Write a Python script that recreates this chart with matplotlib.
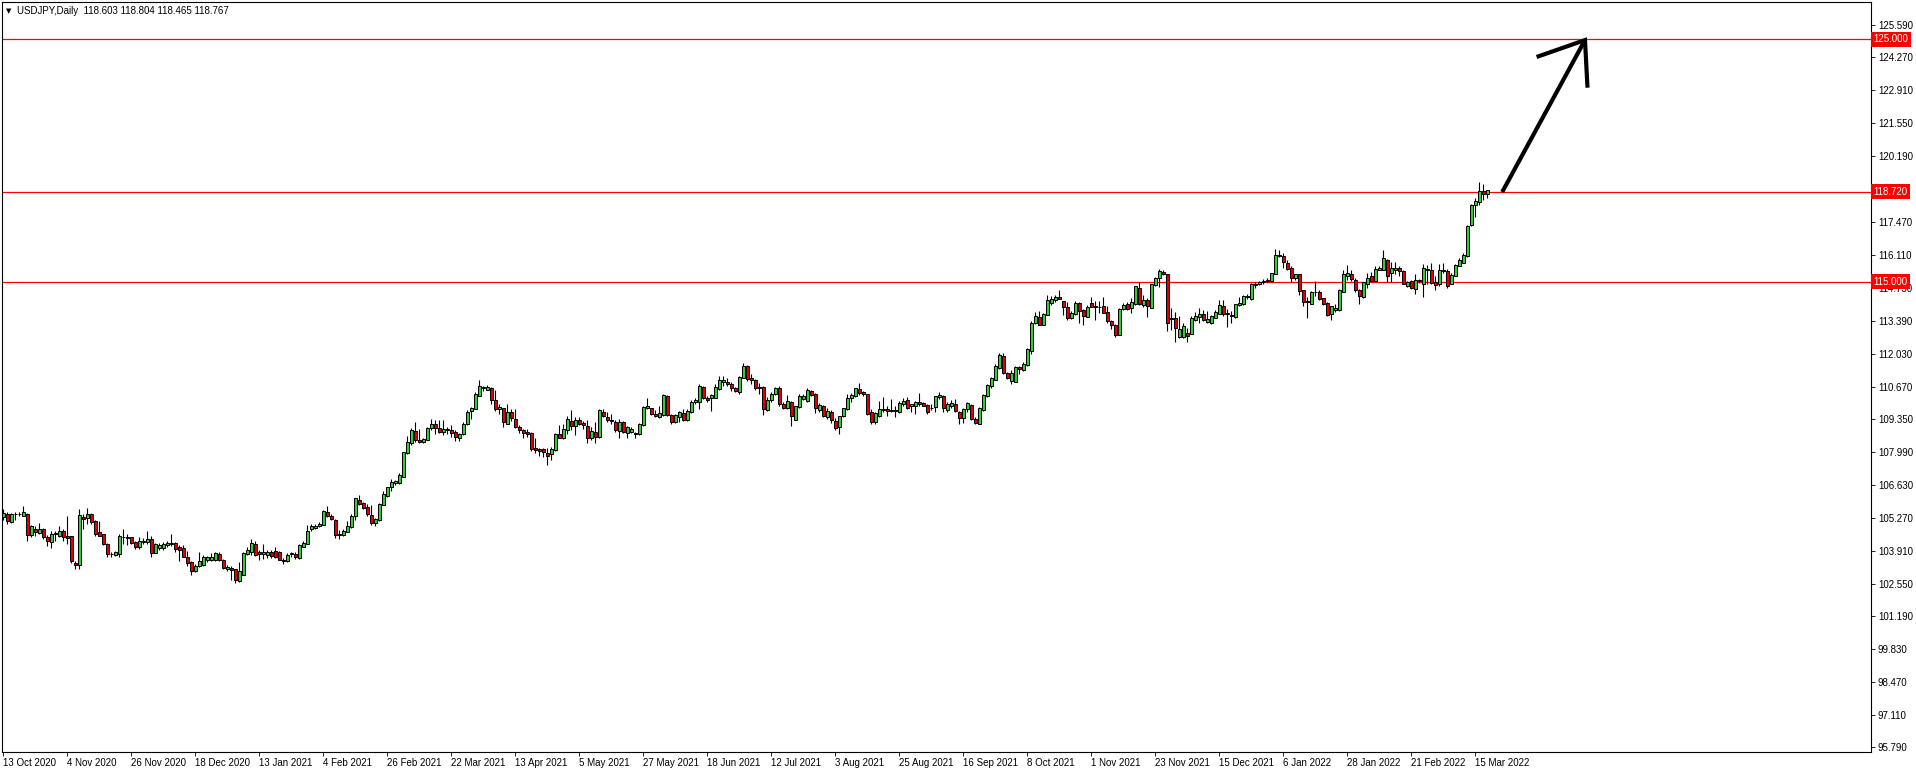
import matplotlib
matplotlib.use('Agg')
import matplotlib.pyplot as plt
import numpy as np

plt.rcParams['font.family'] = ['Liberation Sans', 'DejaVu Sans']

# USDJPY daily bars, 13 Oct 2020 .. 18 Mar 2022
opens = [
    105.30, 105.43, 105.08, 105.41, 105.40, 105.35, 105.43, 104.56, 104.80, 104.64, 104.80, 104.45,
    104.26, 104.61, 104.53, 104.72, 104.53, 104.50, 103.41, 103.32, 105.30, 105.24, 105.43, 105.13,
    104.69, 104.58, 104.20, 103.78, 103.74, 103.76, 104.47, 104.45, 104.45, 104.28, 104.06, 104.26,
    104.28, 104.39, 103.82, 104.01, 104.01, 104.15, 104.20, 104.23, 104.04, 104.01, 103.65, 103.43,
    103.08, 103.27, 103.30, 103.52, 103.52, 103.54, 103.76, 103.54, 103.13, 103.21, 103.13, 102.67,
    102.91, 103.76, 103.84, 104.20, 103.87, 103.76, 103.71, 103.85, 103.90, 103.87, 103.54, 103.46,
    103.76, 103.76, 103.60, 104.06, 104.20, 104.78, 104.83, 104.91, 104.97, 105.52, 105.32, 105.19,
    104.56, 104.56, 104.69, 104.89, 105.35, 106.01, 105.87, 105.71, 105.38, 105.05, 105.18, 105.81,
    106.16, 106.55, 106.70, 106.68, 106.96, 107.92, 108.33, 108.85, 108.49, 108.38, 108.49, 108.98,
    109.12, 108.98, 108.82, 108.93, 108.88, 108.82, 108.57, 108.71, 109.12, 109.67, 109.75, 110.30,
    110.60, 110.55, 110.60, 110.14, 109.73, 109.78, 109.15, 109.64, 109.34, 109.01, 108.90, 108.82,
    108.77, 108.14, 108.08, 108.08, 107.94, 107.89, 108.05, 108.71, 108.57, 108.90, 109.26, 109.04,
    109.31, 109.18, 109.04, 108.55, 108.82, 108.60, 109.62, 109.42, 109.31, 109.21, 108.85, 109.23,
    108.77, 108.79, 108.77, 108.71, 109.07, 109.81, 109.78, 109.56, 109.42, 109.51, 110.30, 109.51,
    109.21, 109.42, 109.59, 109.29, 109.64, 110.03, 110.03, 110.66, 110.22, 110.19, 110.22, 110.57,
    110.88, 110.85, 110.79, 110.60, 110.44, 111.04, 111.51, 111.01, 110.93, 110.66, 110.66, 109.70,
    110.11, 110.36, 110.63, 109.97, 109.81, 110.05, 109.31, 109.84, 110.16, 110.08, 110.49, 110.38,
    109.70, 109.89, 109.42, 109.64, 109.26, 109.01, 109.45, 109.73, 110.22, 110.27, 110.57, 110.46,
    110.36, 109.64, 109.23, 109.48, 109.70, 109.75, 109.67, 109.70, 109.62, 109.95, 110.11, 109.86,
    109.89, 110.03, 110.00, 109.92, 109.81, 109.84, 110.25, 110.27, 109.70, 109.86, 109.97, 109.62,
    109.37, 109.75, 109.92, 109.34, 109.15, 109.70, 110.27, 110.68, 110.96, 111.45, 111.92, 111.23,
    110.90, 110.88, 111.48, 111.37, 111.56, 112.16, 113.31, 113.56, 113.23, 113.64, 114.11, 114.25,
    114.36, 114.19, 113.97, 113.51, 113.67, 114.11, 113.84, 113.56, 114.11, 114.00, 113.97, 114.00,
    113.75, 113.37, 113.23, 112.82, 113.89, 114.07, 113.93, 114.07, 114.75, 114.04, 114.26, 113.93,
    114.86, 115.14, 115.41, 115.30, 113.52, 113.52, 112.70, 112.70, 112.89, 112.86, 113.44, 113.55,
    113.66, 113.33, 113.30, 113.52, 113.68, 113.99, 113.71, 113.63, 113.55, 114.04, 114.07, 114.37,
    114.29, 114.86, 114.89, 114.97, 115.03, 115.05, 115.33, 116.12, 116.07, 115.79, 115.58, 115.14,
    115.30, 114.64, 114.15, 114.10, 114.59, 114.59, 114.32, 114.12, 113.66, 113.82, 113.85, 114.59,
    115.22, 115.30, 115.08, 114.64, 114.37, 114.92, 115.25, 115.05, 115.49, 115.49, 115.90, 115.36,
    115.49, 115.58, 115.44, 114.81, 115.05, 114.70, 115.03, 114.92, 115.52, 115.49, 114.99, 114.89,
    115.49, 115.44, 114.92, 115.25, 115.66, 115.79, 116.07, 117.33, 118.15, 118.29, 118.75, 118.603,
]
highs = [
    105.64, 105.49, 105.46, 105.49, 105.49, 105.76, 105.46, 104.97, 104.91, 105.05, 104.83, 104.56,
    104.72, 104.72, 104.91, 104.80, 105.35, 104.53, 103.46, 105.63, 105.43, 105.68, 105.46, 105.16,
    105.13, 104.61, 104.23, 103.85, 103.90, 104.61, 104.78, 104.61, 104.48, 104.31, 104.45, 104.42,
    104.72, 104.50, 104.23, 104.23, 104.28, 104.31, 104.58, 104.26, 104.12, 104.12, 103.90, 103.46,
    103.35, 103.85, 103.74, 103.68, 103.79, 103.85, 103.87, 103.57, 103.32, 103.27, 103.16, 103.43,
    103.85, 104.06, 104.39, 104.31, 103.93, 104.17, 103.93, 103.95, 104.06, 103.90, 103.60, 103.79,
    103.87, 103.85, 104.17, 104.31, 104.97, 105.00, 105.00, 105.08, 105.57, 105.76, 105.41, 105.21,
    104.75, 104.80, 105.13, 105.41, 106.09, 106.20, 105.90, 105.82, 105.79, 105.24, 105.89, 106.38,
    106.55, 106.85, 106.82, 107.10, 107.97, 108.63, 108.96, 109.21, 108.93, 108.57, 109.01, 109.34,
    109.29, 109.31, 109.29, 108.99, 109.10, 108.90, 108.77, 109.21, 109.70, 109.83, 110.44, 110.96,
    110.71, 110.74, 110.66, 110.55, 109.94, 109.81, 109.97, 109.75, 109.73, 109.10, 108.93, 108.93,
    108.79, 108.55, 108.14, 108.14, 108.14, 108.19, 108.77, 109.10, 109.15, 109.45, 109.70, 109.40,
    109.42, 109.26, 109.29, 109.01, 109.21, 109.73, 109.75, 109.62, 109.56, 109.31, 109.34, 109.26,
    109.04, 108.99, 108.82, 109.18, 109.86, 110.22, 109.81, 109.70, 109.86, 110.36, 110.33, 109.53,
    109.53, 109.67, 109.75, 109.75, 110.11, 110.22, 110.77, 110.68, 110.27, 110.38, 110.79, 111.10,
    111.10, 111.01, 110.88, 110.66, 111.12, 111.64, 111.56, 111.18, 110.98, 110.82, 110.68, 110.25,
    110.44, 110.66, 110.68, 110.05, 110.33, 110.08, 109.89, 110.36, 110.38, 110.63, 110.55, 110.41,
    110.00, 109.92, 109.78, 109.70, 109.37, 109.48, 109.81, 110.36, 110.41, 110.63, 110.82, 110.49,
    110.38, 109.73, 109.64, 110.08, 110.25, 109.86, 110.16, 109.86, 110.08, 110.22, 110.25, 109.97,
    110.08, 110.41, 110.05, 109.95, 109.97, 110.30, 110.44, 110.33, 110.03, 110.14, 110.16, 109.67,
    109.81, 110.05, 109.95, 109.40, 109.84, 110.36, 110.77, 111.09, 111.59, 112.08, 112.08, 111.26,
    111.34, 111.53, 111.53, 111.67, 112.27, 113.37, 113.75, 113.81, 113.73, 114.47, 114.41, 114.47,
    114.66, 114.22, 114.16, 113.78, 114.19, 114.16, 113.86, 114.03, 114.38, 114.19, 114.19, 114.36,
    114.00, 113.42, 113.26, 113.92, 114.14, 114.15, 114.31, 114.84, 114.97, 114.45, 114.31, 114.92,
    115.19, 115.52, 115.47, 115.33, 113.93, 113.74, 113.60, 113.30, 113.08, 113.57, 113.77, 113.93,
    113.82, 113.79, 113.63, 113.85, 114.26, 114.23, 113.88, 113.79, 114.10, 114.37, 114.45, 114.48,
    114.94, 115.00, 115.05, 115.11, 115.14, 115.38, 116.37, 116.29, 116.18, 115.90, 115.63, 115.33,
    115.33, 114.67, 114.37, 114.62, 115.03, 114.64, 114.34, 114.15, 114.01, 114.07, 114.70, 115.49,
    115.68, 115.49, 115.14, 114.70, 115.00, 115.38, 115.41, 115.63, 115.63, 116.31, 115.93, 115.82,
    115.82, 115.63, 115.47, 115.03, 115.08, 115.30, 115.11, 115.74, 115.71, 115.79, 115.22, 115.74,
    115.77, 115.52, 115.36, 115.74, 115.99, 116.18, 117.33, 118.20, 118.45, 119.11, 119.03, 118.804,
]
lows = [
    105.19, 105.00, 105.05, 105.19, 105.32, 105.32, 104.31, 104.48, 104.50, 104.61, 104.39, 104.09,
    104.01, 104.31, 104.48, 104.31, 104.20, 103.41, 103.16, 103.16, 104.80, 105.02, 105.00, 104.53,
    104.50, 104.15, 103.65, 103.65, 103.68, 103.65, 104.20, 104.12, 104.20, 103.98, 103.98, 104.20,
    104.20, 103.63, 103.79, 103.93, 103.93, 104.06, 104.09, 103.87, 103.49, 103.63, 103.27, 102.89,
    103.02, 103.24, 103.27, 103.43, 103.49, 103.49, 103.46, 103.16, 103.05, 102.69, 102.58, 102.61,
    102.89, 103.71, 103.74, 103.68, 103.54, 103.57, 103.60, 103.60, 103.60, 103.52, 103.35, 103.43,
    103.65, 103.57, 103.57, 104.04, 104.17, 104.72, 104.78, 104.89, 104.97, 105.30, 105.16, 104.42,
    104.39, 104.50, 104.67, 104.86, 105.19, 105.79, 105.63, 105.35, 104.97, 104.91, 105.15, 105.78,
    106.14, 106.38, 106.63, 106.66, 106.93, 107.89, 108.27, 108.38, 108.33, 108.33, 108.46, 108.90,
    108.71, 108.77, 108.66, 108.71, 108.60, 108.41, 108.41, 108.68, 109.10, 109.34, 109.73, 110.27,
    110.49, 110.52, 109.94, 109.67, 109.53, 108.99, 109.12, 109.26, 108.96, 108.74, 108.57, 108.60,
    108.00, 107.94, 107.83, 107.78, 107.45, 107.64, 108.03, 108.55, 108.52, 108.71, 108.90, 108.68,
    109.10, 108.93, 108.33, 108.49, 108.33, 108.57, 109.40, 109.21, 109.15, 108.82, 108.55, 108.74,
    108.57, 108.74, 108.57, 108.68, 109.04, 109.73, 109.51, 109.42, 109.37, 109.48, 109.45, 109.15,
    109.18, 109.23, 109.26, 109.26, 109.59, 109.94, 109.75, 110.16, 110.03, 109.67, 110.19, 110.55,
    110.71, 110.68, 110.49, 110.44, 110.38, 111.01, 110.90, 110.77, 110.55, 110.38, 109.51, 109.67,
    110.03, 110.33, 109.89, 109.73, 109.75, 109.04, 109.29, 109.81, 110.11, 110.05, 110.30, 109.59,
    109.62, 109.40, 109.34, 109.18, 108.88, 108.71, 109.42, 109.70, 110.03, 110.25, 110.33, 110.30,
    109.51, 109.12, 109.12, 109.42, 109.64, 109.48, 109.62, 109.40, 109.59, 109.89, 109.73, 109.64,
    109.56, 109.89, 109.86, 109.56, 109.70, 109.64, 110.16, 109.64, 109.64, 109.81, 109.64, 109.12,
    109.18, 109.64, 109.29, 109.15, 109.12, 109.67, 110.25, 110.63, 110.93, 111.42, 111.18, 110.99,
    110.79, 110.85, 111.18, 111.31, 111.53, 112.00, 113.26, 113.20, 113.20, 113.62, 114.05, 114.16,
    114.27, 113.64, 113.42, 113.48, 113.64, 113.29, 113.23, 113.53, 113.94, 113.42, 113.73, 113.70,
    113.31, 113.07, 112.71, 112.79, 113.84, 113.82, 113.71, 114.04, 114.04, 113.96, 113.55, 113.90,
    114.84, 114.78, 115.27, 112.97, 113.00, 112.53, 112.67, 112.67, 112.53, 112.83, 113.38, 113.30,
    113.38, 113.30, 113.27, 113.49, 113.66, 113.57, 113.14, 113.30, 113.52, 114.01, 114.04, 114.29,
    114.26, 114.73, 114.86, 114.89, 115.00, 115.03, 115.30, 116.01, 115.57, 115.47, 115.00, 115.08,
    114.45, 113.99, 113.49, 114.07, 114.42, 114.23, 114.04, 113.60, 113.44, 113.77, 113.79, 114.56,
    115.08, 115.05, 114.59, 114.10, 114.34, 114.75, 115.00, 115.03, 115.47, 115.47, 115.00, 115.00,
    115.30, 115.22, 114.89, 114.78, 114.70, 114.51, 114.95, 114.37, 114.92, 114.92, 114.67, 114.84,
    115.38, 114.75, 114.89, 115.22, 115.63, 115.77, 116.04, 117.30, 117.66, 118.18, 118.37, 118.465,
]
closes = [
    105.46, 105.13, 105.43, 105.40, 105.41, 105.52, 104.54, 104.91, 104.67, 104.80, 104.45, 104.31,
    104.61, 104.64, 104.72, 104.48, 104.42, 103.46, 103.32, 105.38, 105.21, 105.43, 105.08, 104.58,
    104.53, 104.20, 103.76, 103.76, 103.85, 104.53, 104.48, 104.44, 104.23, 104.06, 104.31, 104.31,
    104.39, 103.82, 104.20, 104.12, 104.17, 104.23, 104.21, 103.98, 103.93, 103.65, 103.41, 103.08,
    103.27, 103.49, 103.63, 103.63, 103.63, 103.79, 103.54, 103.21, 103.24, 103.11, 102.69, 103.05,
    103.82, 103.95, 104.23, 103.74, 103.76, 103.87, 103.87, 103.68, 103.65, 103.54, 103.49, 103.74,
    103.82, 103.63, 104.12, 104.23, 104.72, 104.94, 104.94, 105.02, 105.54, 105.32, 105.21, 104.56,
    104.61, 104.72, 104.91, 105.35, 106.06, 105.85, 105.65, 105.41, 105.05, 105.21, 105.83, 106.25,
    106.52, 106.74, 106.76, 107.04, 107.97, 108.38, 108.90, 108.47, 108.38, 108.52, 108.98, 109.12,
    108.98, 108.82, 108.93, 108.88, 108.77, 108.60, 108.71, 109.15, 109.64, 109.81, 110.38, 110.68,
    110.64, 110.66, 110.14, 109.73, 109.83, 109.23, 109.64, 109.37, 109.01, 108.90, 108.74, 108.71,
    108.11, 108.05, 108.03, 107.97, 107.83, 108.11, 108.71, 108.57, 108.93, 109.34, 109.04, 109.31,
    109.15, 109.07, 108.55, 108.85, 108.60, 109.70, 109.45, 109.31, 109.26, 108.88, 109.23, 108.79,
    108.99, 108.93, 108.71, 109.15, 109.83, 109.86, 109.53, 109.48, 109.59, 110.33, 109.51, 109.21,
    109.51, 109.62, 109.31, 109.67, 110.05, 110.11, 110.68, 110.22, 110.14, 110.33, 110.66, 110.93,
    110.96, 110.77, 110.60, 110.49, 111.09, 111.51, 110.99, 110.96, 110.60, 110.60, 109.73, 110.11,
    110.38, 110.63, 109.95, 109.81, 110.08, 109.45, 109.86, 110.30, 110.30, 110.55, 110.33, 109.78,
    109.92, 109.45, 109.67, 109.29, 108.98, 109.45, 109.78, 110.19, 110.33, 110.60, 110.41, 110.36,
    109.56, 109.23, 109.59, 109.75, 109.75, 109.67, 109.70, 109.67, 110.00, 110.08, 109.81, 109.95,
    110.03, 109.95, 109.89, 109.64, 109.78, 110.27, 110.33, 109.78, 109.95, 110.00, 109.67, 109.37,
    109.75, 110.00, 109.34, 109.18, 109.78, 110.33, 110.74, 111.04, 111.53, 111.97, 111.23, 111.04,
    111.23, 111.48, 111.42, 111.62, 112.22, 113.31, 113.59, 113.23, 113.67, 114.25, 114.30, 114.36,
    114.30, 113.97, 113.51, 113.70, 114.14, 113.81, 113.59, 113.97, 113.97, 113.94, 113.94, 113.73,
    113.37, 113.23, 112.82, 113.89, 114.05, 113.88, 114.15, 114.81, 114.07, 114.26, 113.99, 114.89,
    115.14, 115.44, 115.33, 113.30, 113.47, 113.11, 113.03, 113.19, 112.75, 113.49, 113.57, 113.68,
    113.44, 113.47, 113.57, 113.77, 114.04, 113.68, 113.66, 113.58, 114.07, 114.12, 114.42, 114.42,
    114.92, 114.92, 115.00, 115.05, 115.08, 115.36, 116.12, 116.07, 115.82, 115.52, 115.16, 115.30,
    114.62, 114.15, 114.21, 114.59, 114.56, 114.29, 114.10, 113.63, 113.99, 113.93, 114.67, 115.33,
    115.38, 115.11, 114.67, 114.42, 114.97, 115.16, 115.05, 115.52, 115.55, 115.99, 115.25, 115.55,
    115.58, 115.44, 114.92, 115.00, 114.73, 115.08, 115.06, 115.55, 115.47, 114.95, 114.86, 115.49,
    115.44, 114.81, 115.27, 115.68, 115.88, 116.12, 117.30, 118.18, 118.31, 118.75, 118.62, 118.767,
]

date_labels = ['13 Oct 2020', '4 Nov 2020', '26 Nov 2020', '18 Dec 2020', '13 Jan 2021',
               '4 Feb 2021', '26 Feb 2021', '22 Mar 2021', '13 Apr 2021', '5 May 2021',
               '27 May 2021', '18 Jun 2021', '12 Jul 2021', '3 Aug 2021', '25 Aug 2021',
               '16 Sep 2021', '8 Oct 2021', '1 Nov 2021', '23 Nov 2021', '15 Dec 2021',
               '6 Jan 2022', '28 Jan 2022', '21 Feb 2022', '15 Mar 2022']
price_ticks = [125.59, 124.27, 122.91, 121.55, 120.19, 117.47, 116.11, 114.75, 113.39,
               112.03, 110.67, 109.35, 107.99, 106.63, 105.27, 103.91, 102.55, 101.19,
               99.83, 98.47, 97.11, 95.79]
levels = [125.0, 118.72, 115.0]

W, H = 1916, 774
fig = plt.figure(figsize=(W / 100, H / 100), dpi=100)
ax = fig.add_axes([2 / W, 1 - 752 / H, (1871 - 2) / W, (752 - 2) / H])

o = np.array(opens)
h = np.array(highs)
l = np.array(lows)
c = np.array(closes)
x = np.arange(len(o))

# wicks + bodies
ax.vlines(x, l, h, color='black', lw=0.8, zorder=2)
up = c >= o
body_lo = np.minimum(o, c)
body_h = np.maximum(np.abs(c - o), 0.015)
cols = np.where(up, '#3cc83c', '#e00000')
ax.bar(x, body_h, bottom=body_lo, width=0.8, color=cols, edgecolor='black',
       linewidth=0.7, zorder=3)

# horizontal levels
for lv in levels:
    ax.axhline(lv, color='#ff0000', lw=0.9, zorder=1)

ax.set_xlim(-0.33, 466.9)
ax.set_ylim(95.60, 126.54)

# hand-drawn arrow
arrow_x = [374.7, 395.4]
arrow_y = [118.70, 124.97]
ax.plot(arrow_x, arrow_y, color='black', lw=3.0, solid_capstyle='butt', zorder=4)
ax.plot([383.8, 395.4, 396.0], [124.30, 124.97, 123.09], color='black', lw=3.0,
        solid_joinstyle='miter', zorder=4)

# axes styling
for s in ax.spines.values():
    s.set_color('black')
    s.set_linewidth(0.8)
ax.yaxis.tick_right()
ax.set_yticks(price_ticks)
ax.set_yticklabels(['%.3f' % v for v in price_ticks], fontsize=7)
ax.tick_params(axis='y', length=3, width=0.6, pad=2)

xt = np.arange(0, 16 * len(date_labels), 16)
ax.set_xticks(xt)
ax.set_xticklabels(date_labels, fontsize=7, ha='left')
ax.tick_params(axis='x', length=3, width=0.6, pad=1)

# red price labels for the levels
for lv in levels:
    ax.text(1.0012, lv, '%.3f' % lv, transform=ax.get_yaxis_transform(), fontsize=7,
            color='white', va='center', ha='left',
            bbox=dict(boxstyle='square,pad=0.25', fc='#ff0000', ec='none'), zorder=6)

fig.text(6 / W, 1 - 11 / H, '\u25bc', fontsize=5, va='center', ha='left',
         family=['DejaVu Sans'])
fig.text(17 / W, 1 - 11 / H, 'USDJPY,Daily  118.603 118.804 118.465 118.767',
         fontsize=7, va='center', ha='left')

fig.savefig('out.png', dpi=100, facecolor='white')
